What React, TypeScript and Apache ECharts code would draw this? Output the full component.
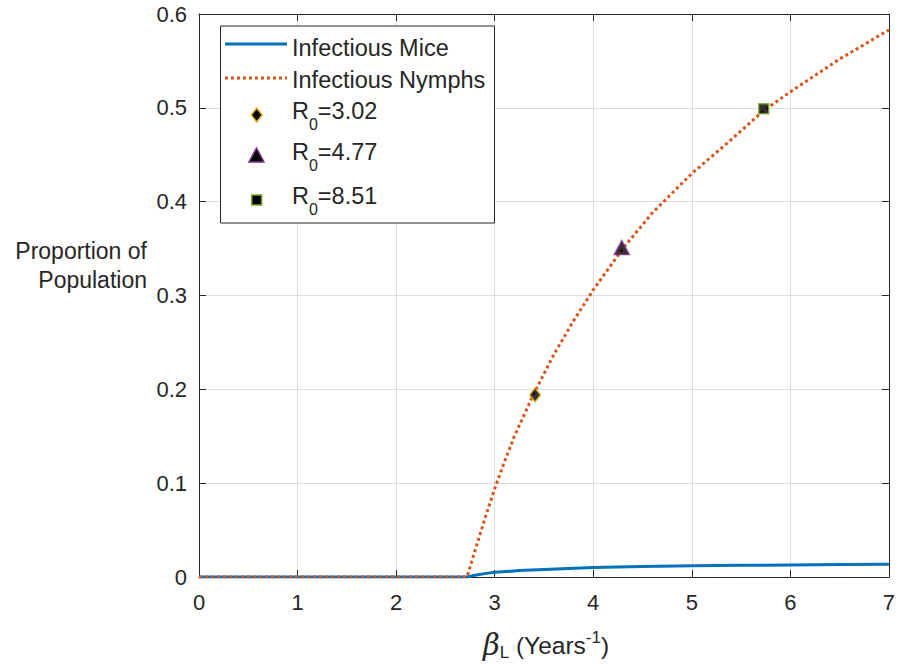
import React, { useEffect, useRef } from "react";
import * as echarts from "echarts";

const xTicks = [0, 1, 2, 3, 4, 5, 6, 7];
const yTicks = [0, 0.1, 0.2, 0.3, 0.4, 0.5, 0.6];

const betaMice = [0, 2.72, 2.8, 2.9, 3.0, 3.25, 3.5, 4.0, 4.5, 5.0, 5.5, 6.0, 6.5, 7.0];
const infectiousMice = [0, 0, 0.0018, 0.0036, 0.005, 0.0068, 0.0081, 0.01, 0.0111, 0.0119, 0.0124, 0.0129, 0.0132, 0.0135];

const betaNymphs = [0, 2.72, 2.8, 2.9, 3.0, 3.1, 3.2, 3.4, 3.6, 3.8, 4.0, 4.3, 4.6, 5.0, 5.4, 5.73, 6.0, 6.5, 7.0];
const infectiousNymphs = [0, 0, 0.028, 0.062, 0.094, 0.123, 0.15, 0.196, 0.237, 0.273, 0.306, 0.35, 0.388, 0.43, 0.466, 0.497, 0.517, 0.552, 0.583];

const r0Labels = ["3.02", "4.77", "8.51"];
const r0Beta = [3.41, 4.29, 5.73];
const r0Value = [0.194, 0.351, 0.499];

const FONT = 'Arial, "Liberation Sans", Helvetica, sans-serif';
const TXT = "#262626";
const BLUE = "#0072BD";
const ORANGE = "#D95319";
const GRIDC = "#dedede";
const markerEdges = ["#EDB120", "#7E2F8E", "#77AC30"];
const markerSymbols = ["diamond", "triangle", "rect"];
const markerSizes: any[] = [[11, 14], [15, 14], [10, 10]];

export default function App() {
  const ref = useRef<HTMLDivElement>(null);
  useEffect(() => {
    document.body.style.margin = "0";
    if (!ref.current) return;
    const chart = echarts.init(ref.current, null, { renderer: "svg" });

    const axisCommon = {
      type: "value",
      axisLine: { show: true, onZero: false, lineStyle: { color: TXT, width: 1 } },
      axisTick: { show: true, inside: true, length: 7, lineStyle: { color: TXT, width: 1 } },
    };

    const scatterSeries = r0Labels.map((lab, i) => ({
      name: "R0=" + lab,
      type: "scatter",
      xAxisIndex: 0,
      yAxisIndex: 0,
      symbol: markerSymbols[i],
      symbolSize: markerSizes[i],
      itemStyle: { color: "#000", borderColor: markerEdges[i], borderWidth: 1.5 },
      z: 5,
      data: [[r0Beta[i], r0Value[i]]],
    }));

    const ZL = 100;
    const legendRowsY = [111, 152, 196];
    const legendMarkers: any[] = [
      { type: "polygon", z: ZL + 1, shape: { points: [[256.7, 108], [262.2, 115], [256.7, 122], [251.2, 115]] }, style: { fill: "#000", stroke: markerEdges[0], lineWidth: 1.5 } },
      { type: "polygon", z: ZL + 1, shape: { points: [[256.5, 148], [264, 162], [249, 162]] }, style: { fill: "#000", stroke: markerEdges[1], lineWidth: 1.5 } },
      { type: "rect", z: ZL + 1, shape: { x: 251.7, y: 195, width: 10, height: 10 }, style: { fill: "#000", stroke: markerEdges[2], lineWidth: 1.5 } },
    ];

    const option: any = {
      animation: false,
      grid: { left: 199, right: 5, top: 14, bottom: 90, containLabel: false },
      xAxis: [
        {
          ...axisCommon,
          position: "bottom",
          min: xTicks[0],
          max: xTicks[xTicks.length - 1],
          interval: 1,
          axisLabel: { fontSize: 22, color: TXT, fontFamily: FONT, margin: 14 },
          splitLine: { show: true, lineStyle: { color: GRIDC, width: 1 } },
        },
        {
          ...axisCommon,
          position: "top",
          min: xTicks[0],
          max: xTicks[xTicks.length - 1],
          interval: 1,
          axisLabel: { show: false },
          splitLine: { show: false },
        },
      ],
      yAxis: [
        {
          ...axisCommon,
          position: "left",
          min: yTicks[0],
          max: yTicks[yTicks.length - 1],
          interval: 0.1,
          axisLabel: {
            fontSize: 22,
            color: TXT,
            fontFamily: FONT,
            margin: 12,
            formatter: (v: number) => (v === 0 ? "0" : v.toFixed(1)),
          },
          splitLine: { show: true, lineStyle: { color: GRIDC, width: 1 } },
        },
        {
          ...axisCommon,
          position: "right",
          min: yTicks[0],
          max: yTicks[yTicks.length - 1],
          interval: 0.1,
          axisLabel: { show: false },
          splitLine: { show: false },
        },
      ],
      series: [
        {
          name: "Infectious Mice",
          type: "line",
          xAxisIndex: 0,
          yAxisIndex: 0,
          showSymbol: false,
          lineStyle: { color: BLUE, width: 3 },
          z: 2,
          data: betaMice.map((b, i) => [b, infectiousMice[i]]),
        },
        {
          name: "Infectious Nymphs",
          type: "line",
          xAxisIndex: 0,
          yAxisIndex: 0,
          showSymbol: false,
          lineStyle: { color: ORANGE, width: 3, type: [3, 3] },
          z: 3,
          data: betaNymphs.map((b, i) => [b, infectiousNymphs[i]]),
        },
        ...scatterSeries,
      ],
      graphic: [
        {
          type: "text",
          x: 147,
          y: 265,
          style: {
            text: "Proportion of\nPopulation",
            align: "right",
            verticalAlign: "middle",
            fontSize: 23,
            lineHeight: 29,
            fontFamily: FONT,
            fill: TXT,
          },
        },
        {
          type: "text",
          x: 546,
          y: 645,
          style: {
            text: "{b|β}{s|L}{m| (Years}{p|-1}{m|)}",
            align: "center",
            verticalAlign: "middle",
            fontSize: 24.5,
            fontFamily: FONT,
            fill: TXT,
            lineHeight: 32,
            rich: {
              m: { fontSize: 24.5, lineHeight: 32, fontFamily: FONT, fill: TXT },
              b: { fontSize: 29, fontFamily: '"DejaVu Serif", "Liberation Serif", serif', fontStyle: "italic", lineHeight: 32, fill: TXT },
              s: { fontSize: 17, lineHeight: 17, verticalAlign: "bottom", fontFamily: FONT, fill: TXT },
              p: { fontSize: 17, lineHeight: 17, verticalAlign: "top", fontFamily: FONT, fill: TXT },
            },
          },
        },
        {
          type: "rect",
          z: ZL,
          shape: { x: 220.5, y: 26, width: 274, height: 197 },
          style: { fill: "#fff", stroke: TXT, lineWidth: 1 },
        },
        {
          type: "line",
          z: ZL + 1,
          shape: { x1: 225, y1: 44, x2: 287, y2: 44 },
          style: { stroke: BLUE, lineWidth: 3 },
        },
        {
          type: "line",
          z: ZL + 1,
          shape: { x1: 225, y1: 78, x2: 287, y2: 78 },
          style: { stroke: ORANGE, lineWidth: 3, lineDash: [3, 3] },
        },
        ...legendMarkers,
        {
          type: "text",
          z: ZL + 1,
          x: 292,
          y: 47.5,
          style: { text: "Infectious Mice", verticalAlign: "middle", fontSize: 23.5, fontFamily: FONT, fill: TXT },
        },
        {
          type: "text",
          z: ZL + 1,
          x: 292,
          y: 79.5,
          style: { text: "Infectious Nymphs", verticalAlign: "middle", fontSize: 23.5, fontFamily: FONT, fill: TXT },
        },
        ...r0Labels.map((lab, i) => ({
          type: "text",
          z: ZL + 1,
          x: 292,
          y: legendRowsY[i],
          style: {
            text: "{m|R}{s|0}{m|=" + lab + "}",
            verticalAlign: "middle",
            fontSize: 23.5,
            lineHeight: 42,
            fontFamily: FONT,
            fill: TXT,
            rich: {
              m: { fontSize: 23.5, lineHeight: 42, fontFamily: FONT, fill: TXT },
              s: { fontSize: 16, lineHeight: 16, verticalAlign: "bottom", fontFamily: FONT, fill: TXT },
            },
          },
        })),
      ],
    };
    chart.setOption(option);
    return () => chart.dispose();
  }, []);
  return <div ref={ref} style={{ width: 898, height: 667 }} />;
}
